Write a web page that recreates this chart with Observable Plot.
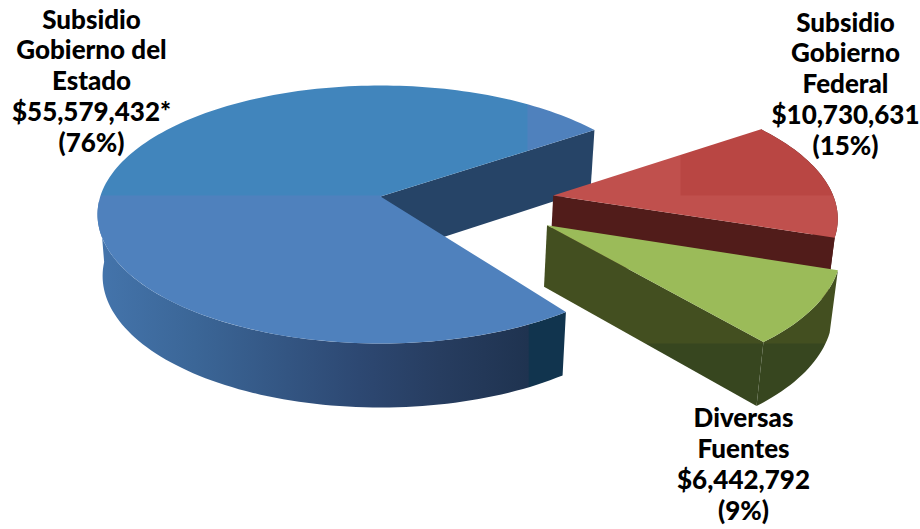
<!DOCTYPE html>
<html>
<head>
<meta charset="utf-8">
<script src="https://cdn.jsdelivr.net/npm/d3@7"></script>
<script src="https://cdn.jsdelivr.net/npm/@observablehq/plot@0.6"></script>
<style>
html,body{margin:0;padding:0;background:#fff;overflow:hidden}
</style>
</head>
<body>
<div id="chart"></div>
<script>
// ---- data ----
const labelLines = ["Subsidio\nGobierno\nFederal", "Diversas\nFuentes", "Subsidio\nGobierno del\nEstado"];
const amounts = [10730631, 6442792, 55579432];
const percents = [15, 9, 76];
const notes = ["", "", "*"];

// ---- 3D pie projection (styling, not data) ----
const W = 920, H = 529;
const cx = 380, cy = 214, rx = 283, ry = 129, k = 0.14, shrink = 0.982;
const firstAngle = -34.5;
const explodeU = [0.617, 0.576, 0], explodeV = [-0.007, 0.22, 0], lean = [-13, -13, 0], startPad = [0, 0, 3.6];
const labelX = [845, 743, 91], labelY = [83, 463, 80];

const total = d3.sum(amounts);
const rad = d => d * Math.PI / 180;
function project(u, v, bottom) {
  const w = 1 - k * v;
  const X = cx + rx * Math.sqrt(1 - k * k) * u / w;
  const Y = cy + ry * (v - k) / w;
  return bottom ? {x: cx + (X - cx) * shrink, y: Y + 61 + 3 * Math.min(1, v)} : {x: X, y: Y};
}
let acc = firstAngle;
const slices = amounts.map((a, i) => {
  const start = acc + startPad[i], end = acc + a / total * 360;
  acc = end;
  return {i, start, end, ou: explodeU[i], ov: explodeV[i], lean: lean[i] / rx};
});
const edge = (s, deg, bottom) => {
  const t = rad(deg);
  return project(s.ou + Math.cos(t) + s.lean * Math.sin(t), s.ov + Math.sin(t), bottom);
};
const rim = (s, a, b, bottom) => {
  const n = Math.max(2, Math.ceil(Math.abs(b - a) / 1.5));
  return d3.range(n + 1).map(j => edge(s, a + (b - a) * j / n, bottom));
};
const tip = (s, bottom) => project(s.ou, s.ov, bottom);
const topFace = s => [tip(s), ...rim(s, s.start, s.end)];
const wall = (s, a, b) => [...rim(s, a, b), ...rim(s, b, a, true)];
const face = (s, a) => [tip(s), edge(s, a), edge(s, a, true), tip(s, true)];
const [red, green, blue] = slices;

const poly = (pts, fill) => Plot.line(pts, {x: "x", y: "y", fill, stroke: "none", curve: "linear"});

function defs() {
  const d = d3.create("svg:defs");
  const pat = (id, base, rects) => {
    const p = d.append("pattern").attr("id", id).attr("patternUnits", "userSpaceOnUse")
      .attr("width", W).attr("height", H);
    p.append("rect").attr("width", W).attr("height", H).attr("fill", base);
    rects.forEach(([x, y, w, h, c]) => p.append("rect").attr("x", x).attr("y", y).attr("width", w).attr("height", h).attr("fill", c));
  };
  pat("blueTop", "#4f81bd", [[0, 0, 527, 195, "#4185bc"]]);
  pat("redTop", "#c0504d", [[680, 0, 240, 195, "#b94643"]]);
  pat("greenSide", "#434f20", [[0, 343, W, H, "#37461f"]]);
  const g = d.append("linearGradient").attr("id", "blueWall").attr("gradientUnits", "userSpaceOnUse")
    .attr("x1", 100).attr("x2", 570).attr("y1", 0).attr("y2", 0);
  [[0, "#4474ab"], [0.2, "#3b6697"], [0.55, "#2d4872"], [0.72, "#273d60"], [0.91, "#1f3350"], [0.912, "#11344e"], [1, "#11344e"]]
    .forEach(([o, c]) => g.append("stop").attr("offset", o).attr("stop-color", c));
  return d.node();
}

const labelData = amounts.map((a, i) => ({
  text: `${labelLines[i]}\n$${d3.format(",")(a)}${notes[i]}\n(${percents[i]}%)`,
  x: labelX[i], y: labelY[i]
}));

const chart = Plot.plot({
  width: W, height: H, margin: 0,
  x: {domain: [0, W], range: [0, W], axis: null},
  y: {domain: [0, H], range: [0, H], axis: null},
  style: {background: "#fff"},
  marks: [
    defs,
    // blue slice
    poly(face(blue, blue.end), "#264467"),
    poly(wall(blue, 178, blue.start), "url(#blueWall)"),
    poly(topFace(blue), "url(#blueTop)"),
    // red slice
    poly(wall(red, red.start, red.end), "#511c1a"),
    poly(face(red, red.end), "#511c1a"),
    poly(topFace(red), "url(#redTop)"),
    // green slice
    poly(wall(green, green.start, green.end), "url(#greenSide)"),
    poly(face(green, green.end), "url(#greenSide)"),
    poly(topFace(green), "#9bbb59"),
    // labels
    Plot.text(labelData, {
      x: "x", y: "y", text: "text", textAnchor: "middle", lineAnchor: "middle",
      lineHeight: 1.19, fontSize: 26, fontWeight: 900, fontFamily: "Lato", fill: "#000"
    })
  ]
});
document.getElementById("chart").appendChild(chart);
</script>
</body>
</html>
